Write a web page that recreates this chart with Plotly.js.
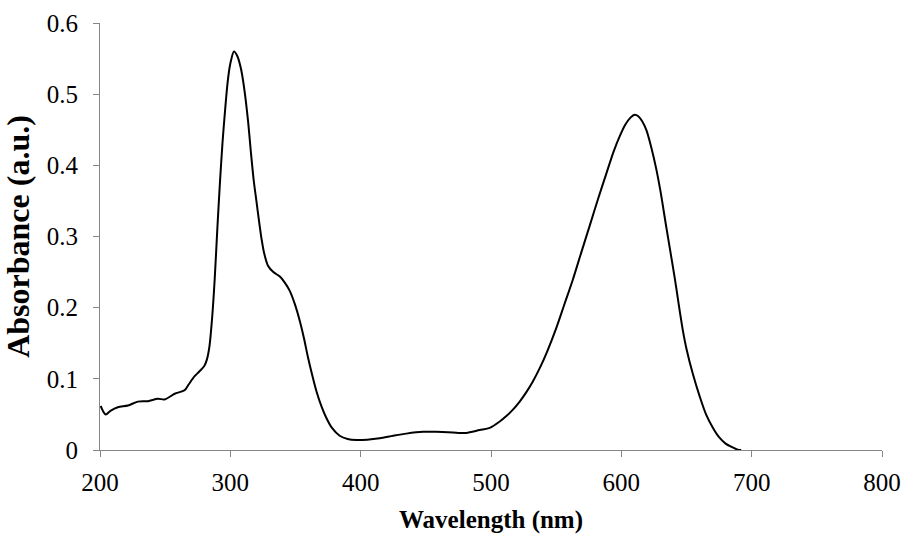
<!DOCTYPE html>
<html>
<head>
<meta charset="utf-8">
<script src="https://cdn.plot.ly/plotly-3.0.1.min.js"></script>
<style>html,body{margin:0;padding:0;background:#fff;}#chart{width:906px;height:536px;}</style>
</head>
<body>
<div id="chart"></div>
<script>
const wavelength = [200.5,204.3,208,213.7,221.4,229,236.8,244.4,249.6,257.3,264.9,268,272.6,276,280,282,284,286,288,290,292,294,296,298,300,302.8,305.5,308,310.5,313.5,316,318,320,322,324,326,328.9,333,337.8,341.5,345.5,349.5,353.2,356.5,359.6,363,366,370,373.7,378,383.9,390,396.7,405,414.6,425,435,447.8,458,467,475,481,491.3,499,506.7,512,517,522,527,532,537.4,543,550.2,556,562.9,569,575.7,582,588.6,594,598.8,603,607,610.3,613,616,619.3,623,626.9,630,634.6,639.7,642.3,645,647.4,650,655,660,665,670,675,680,685,690,692];
const absorbance = [0.062,0.050,0.055,0.060,0.0625,0.068,0.0686,0.072,0.071,0.079,0.084,0.092,0.1037,0.110,0.118,0.127,0.146,0.185,0.240,0.310,0.375,0.432,0.478,0.518,0.543,0.560,0.553,0.537,0.510,0.464,0.414,0.378,0.350,0.322,0.296,0.276,0.259,0.250,0.244,0.236,0.224,0.205,0.182,0.157,0.130,0.104,0.083,0.061,0.045,0.031,0.020,0.0155,0.014,0.0145,0.0165,0.020,0.023,0.0255,0.0255,0.025,0.024,0.024,0.028,0.031,0.040,0.048,0.057,0.068,0.081,0.096,0.115,0.138,0.172,0.203,0.240,0.276,0.315,0.352,0.389,0.419,0.441,0.457,0.467,0.471,0.469,0.462,0.449,0.425,0.394,0.364,0.312,0.256,0.226,0.193,0.166,0.142,0.106,0.076,0.050,0.032,0.018,0.009,0.004,0.000,0.000];
const xTicks = [200,300,400,500,600,700,800];
const yTicks = [0,0.1,0.2,0.3,0.4,0.5,0.6];
const xTitle = 'Wavelength (nm)';
const yTitle = 'Absorbance (a.u.)';

const serif = 'Liberation Serif, Times New Roman, serif';
Plotly.newPlot('chart', [{
  x: wavelength, y: absorbance, type: 'scatter', mode: 'lines',
  line: {color: '#000', width: 2, shape: 'spline', smoothing: 0.8},
  hoverinfo: 'none', showlegend: false
}], {
  width: 906, height: 536,
  margin: {l: 100, r: 24, t: 23, b: 86},
  paper_bgcolor: '#fff', plot_bgcolor: '#fff',
  xaxis: {
    range: [200, 800], tickvals: xTicks, ticktext: xTicks.map(String),
    showgrid: false, zeroline: false, showline: true, linecolor: '#868686', linewidth: 1,
    ticks: 'outside', ticklen: 6, tickcolor: '#868686', tickwidth: 1,
    ticklabelstandoff: 4,
    tickfont: {family: serif, size: 25, color: '#000'},
    title: {text: xTitle, font: {family: serif, size: 25, color: '#000', weight: 'bold'}, standoff: 15}
  },
  yaxis: {
    range: [0, 0.6], tickvals: yTicks, ticktext: yTicks.map(String),
    showgrid: false, zeroline: false, showline: true, linecolor: '#868686', linewidth: 1,
    ticks: 'outside', ticklen: 6, tickcolor: '#868686', tickwidth: 1,
    ticklabelstandoff: 10,
    tickfont: {family: serif, size: 25, color: '#000'},
    title: {text: yTitle, font: {family: serif, size: 32, color: '#000', weight: 'bold'}, standoff: 8}
  }
}, {staticPlot: true});
</script>
</body>
</html>
